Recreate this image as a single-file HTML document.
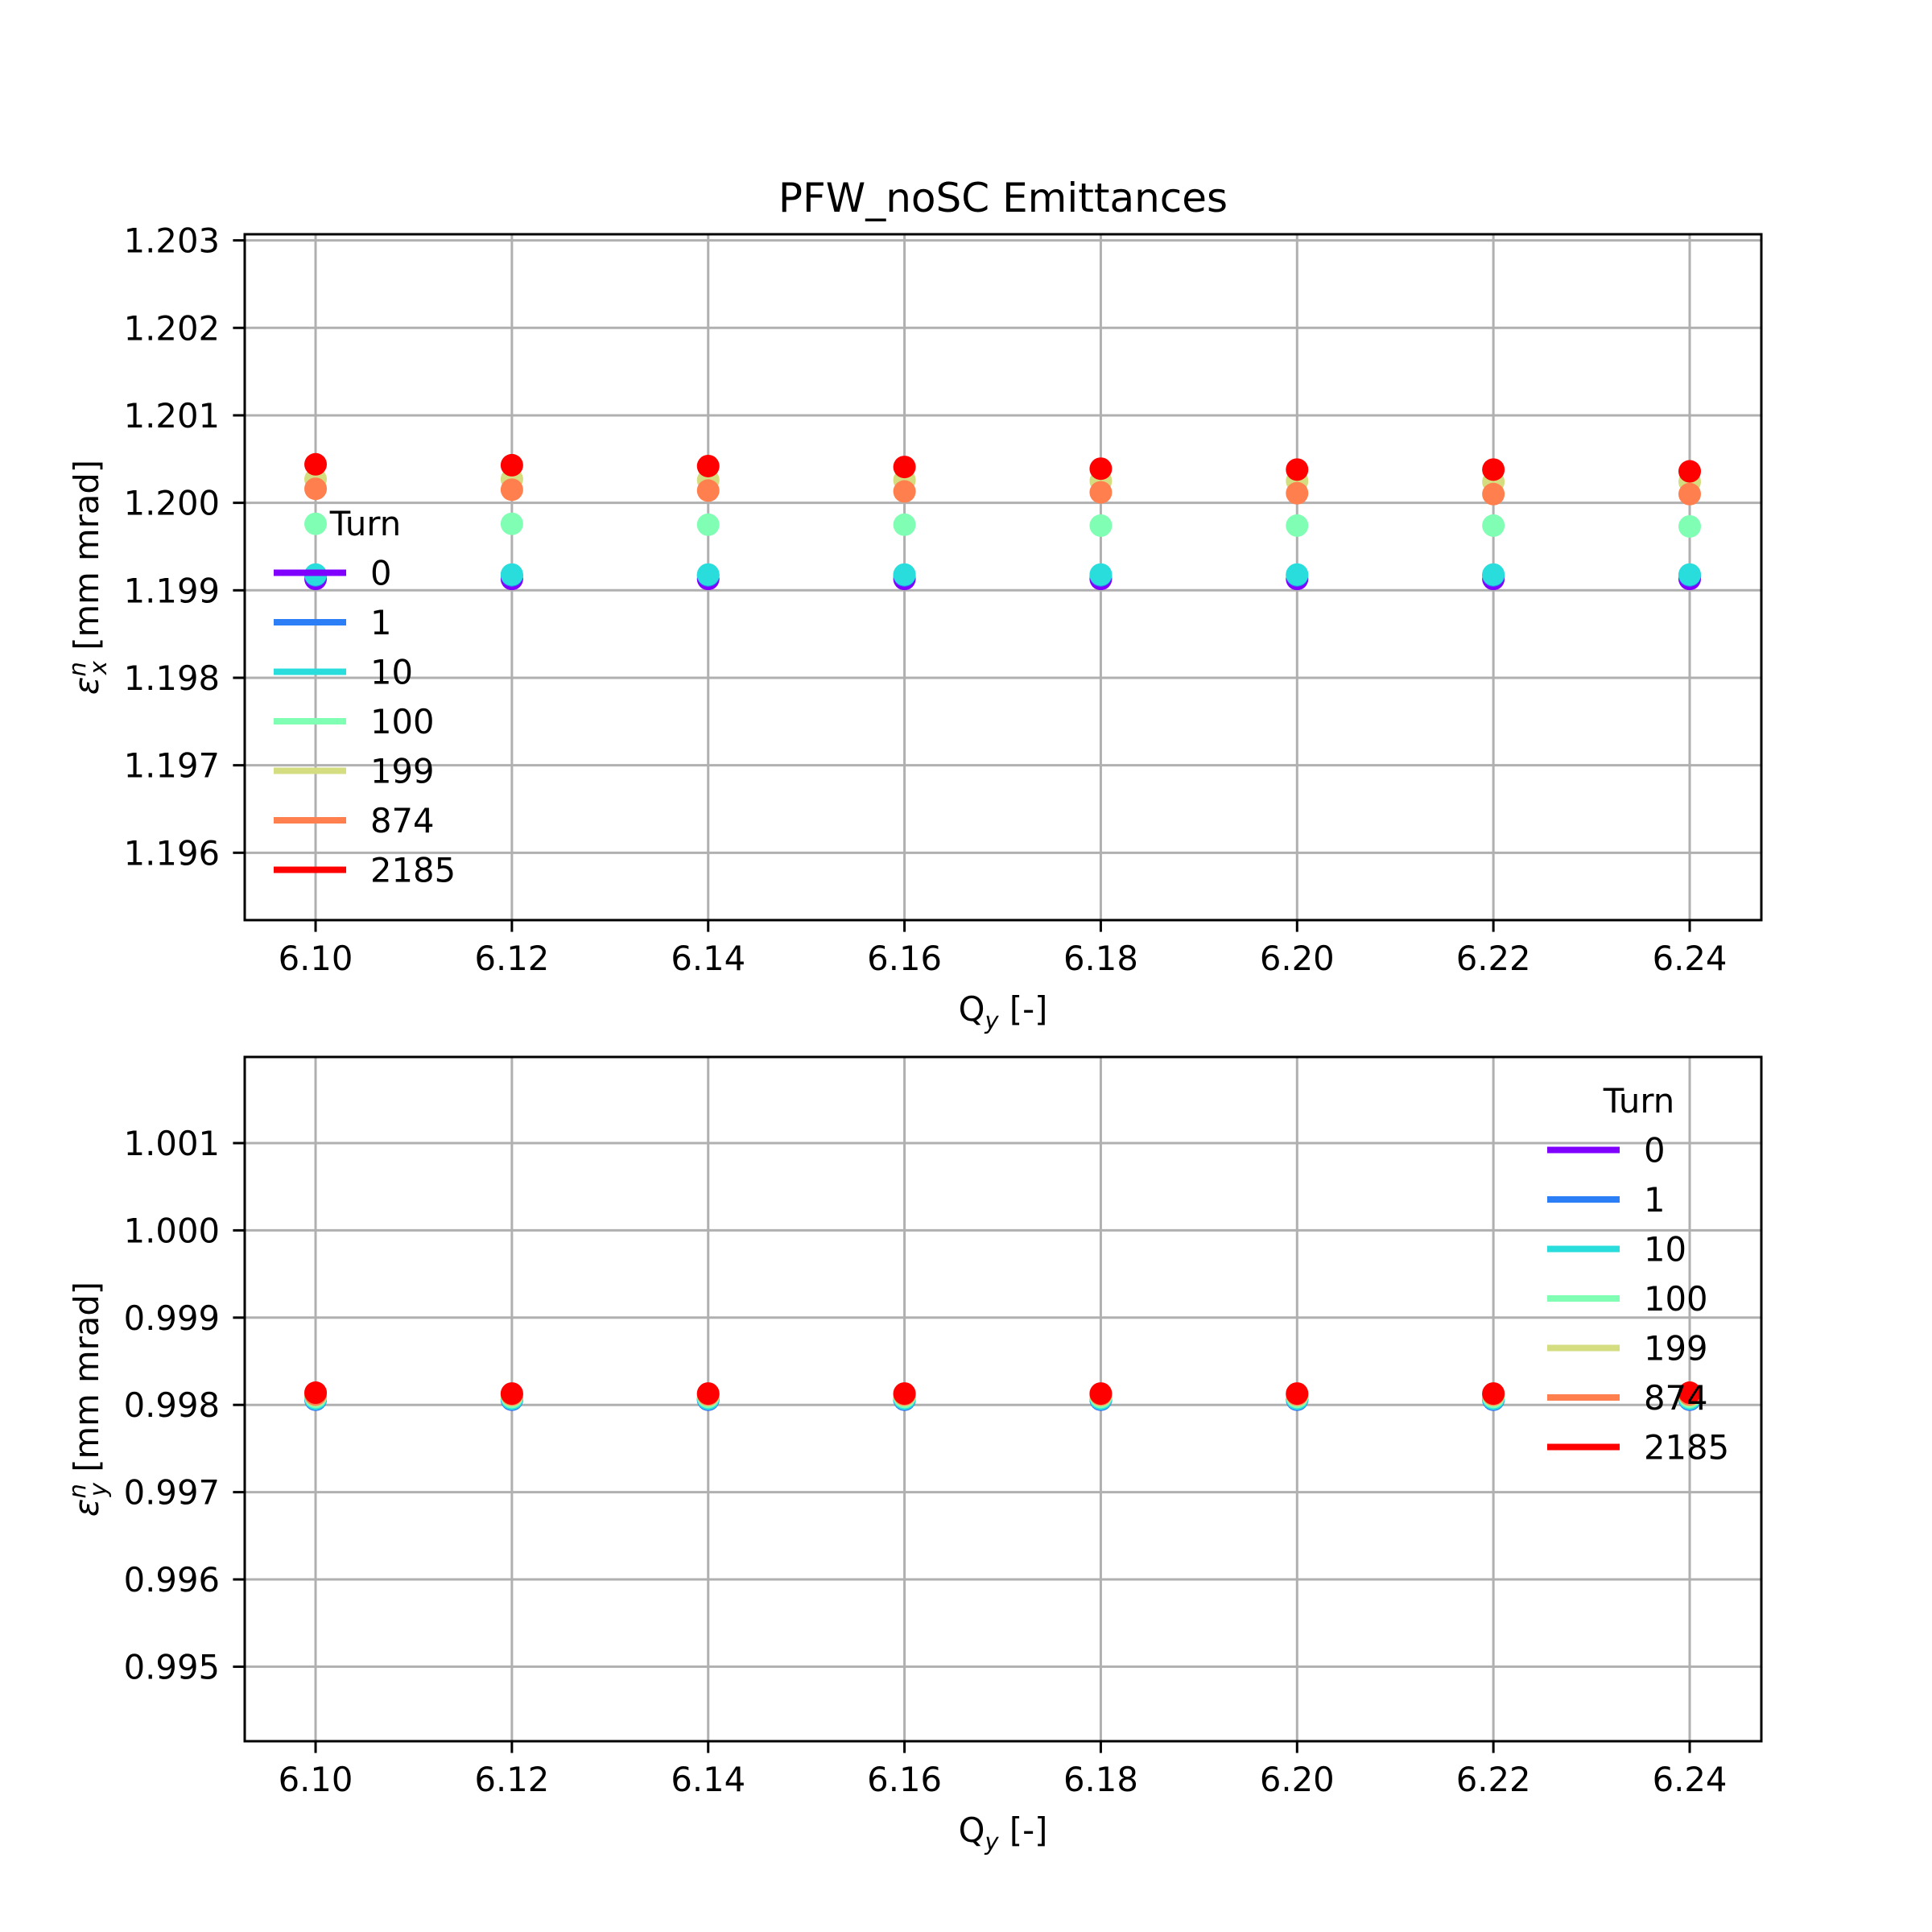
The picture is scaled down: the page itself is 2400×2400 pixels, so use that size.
<!DOCTYPE html>
<html><head><meta charset="utf-8"><style>
html,body{margin:0;padding:0;background:#fff}
svg{display:block;font-family:"DejaVu Sans","Liberation Sans",sans-serif}
</style></head><body>
<svg id="fig" width="2400" height="2400" viewBox="0 0 2400 2400" xmlns="http://www.w3.org/2000/svg">
<rect width="2400" height="2400" fill="#fff"/>
<text x="1246" y="263" font-size="50" text-anchor="middle">PFW_noSC Emittances</text>
<g id="g1"></g>
<g id="g2"></g>
</svg>
<script>
const qy = [6.10, 6.12, 6.14, 6.16, 6.18, 6.20, 6.22, 6.24];
const xTicks = ["6.10","6.12","6.14","6.16","6.18","6.20","6.22","6.24"];
const turns = ["0","1","10","100","199","874","2185"];
const colors = ["#8000ff","#2c7ef7","#2adddd","#80ffb4","#d4dd80","#ff7f4e","#ff0000"];
const exTurn0 = [1.19913,1.19913,1.19913,1.19913,1.19913,1.19913,1.19913,1.19913];
const exTurn1 = [1.19917,1.19917,1.19917,1.19917,1.19917,1.19917,1.19917,1.19917];
const exTurn10 = [1.19918,1.19918,1.19918,1.19918,1.19918,1.19918,1.19918,1.19918];
const exTurn100 = [1.19976,1.19976,1.19975,1.19975,1.19974,1.19974,1.19974,1.19973];
const exTurn199 = [1.20027,1.20027,1.20026,1.20026,1.20025,1.20025,1.20024,1.20024];
const exTurn874 = [1.20016,1.20015,1.20014,1.20013,1.20012,1.20011,1.20010,1.20010];
const exTurn2185 = [1.20044,1.20043,1.20042,1.20041,1.20039,1.20038,1.20038,1.20036];
const eyTurn0 = [0.99806,0.99806,0.99806,0.99806,0.99806,0.99806,0.99806,0.99806];
const eyTurn1 = [0.99806,0.99806,0.99806,0.99806,0.99806,0.99806,0.99806,0.99806];
const eyTurn10 = [0.99807,0.99807,0.99807,0.99807,0.99807,0.99807,0.99807,0.99807];
const eyTurn100 = [0.99809,0.99809,0.99809,0.99809,0.99809,0.99809,0.99809,0.99809];
const eyTurn199 = [0.99811,0.99811,0.99811,0.99811,0.99811,0.99811,0.99811,0.99811];
const eyTurn874 = [0.99812,0.99812,0.99812,0.99812,0.99812,0.99812,0.99812,0.99812];
const eyTurn2185 = [0.99814,0.99813,0.99813,0.99813,0.99813,0.99813,0.99813,0.99814];
const yTicksTop = [1.196,1.197,1.198,1.199,1.200,1.201,1.202,1.203];
const yTicksBot = [0.995,0.996,0.997,0.998,0.999,1.000,1.001];

const NS="http://www.w3.org/2000/svg";
function mk(tag, attrs, parent){const e=document.createElementNS(NS,tag);for(const k in attrs)e.setAttribute(k,attrs[k]);parent.appendChild(e);return e;}
const L=304,R=2188,X0=6.09278,X1=6.2473;
function xs(q){return L+(q-X0)/(X1-X0)*(R-L);}

function panel(g, top, bot, ymin, ymax, yt, series, ylabelSub, legendPos){
  const ys=v=>bot-(v-ymin)/(ymax-ymin)*(bot-top);
  qy.forEach((q,i)=>{
    const l=mk('line',{x1:xs(q),x2:xs(q),y1:top,y2:bot,stroke:'#b0b0b0','stroke-width':3},g);
    
    
    const t=mk('line',{x1:xs(q),x2:xs(q),y1:bot,y2:bot+14.6,stroke:'#000','stroke-width':3},g);
    
    
    const tx=mk('text',{x:xs(q),y:bot+62,'font-size':41.7,'text-anchor':'middle'},g);
    tx.textContent=xTicks[i];
    
    
  });
  yt.forEach(v=>{
    const y=ys(v);
    const l=mk('line',{x1:L,x2:R,y1:y,y2:y,stroke:'#b0b0b0','stroke-width':3},g);
    
    
    const t=mk('line',{x1:L-14.6,x2:L,y1:y,y2:y,stroke:'#000','stroke-width':3},g);
    
    
    const tx=mk('text',{x:L-31,y:y+15,'font-size':41.7,'text-anchor':'end'},g);
    tx.textContent=v.toFixed(3);
    
    
  });
  series.forEach((s,si)=>{
    s.forEach((v,i)=>{
      const c=mk('circle',{cx:xs(qy[i]),cy:ys(v),r:14,fill:colors[si]},g);
      
      
    });
  });
  const fr=mk('rect',{x:L,y:top,width:R-L,height:bot-top,fill:'none',stroke:'#000','stroke-width':3},g);
  
  
  const xl=mk('text',{x:1246,y:bot+125,'font-size':41.7,'text-anchor':'middle'},g);
  xl.innerHTML='Q<tspan font-size="29" dy="10" font-style="italic">y</tspan><tspan dy="-10"> [-]</tspan>';
  
  
  const cy=(top+bot)/2;
  const yl=mk('text',{x:0,y:0,'font-size':41.7,'text-anchor':'middle',transform:`translate(122,${cy}) rotate(-90)`},g);
  yl.innerHTML='<tspan font-style="italic">ε</tspan><tspan font-size="29" dy="-16" font-style="italic">n</tspan><tspan font-size="29" dx="-16" dy="26" font-style="italic">'+ylabelSub+'</tspan><tspan dy="-10"> [mm mrad]</tspan>';
  
  
  const lg=mk('g',{},g);
  
  
  const tt=mk('text',{x:legendPos.tx,y:legendPos.ty+15,'font-size':41.7,'text-anchor':'middle'},lg);
  tt.textContent='Turn';
  
  
  turns.forEach((t,i)=>{
    const y=legendPos.ty+61.5*(i+1);
    const ln=mk('line',{x1:legendPos.lx,x2:legendPos.lx+90,y1:y,y2:y,stroke:colors[i],'stroke-width':8},lg);
    
    
    const tx=mk('text',{x:legendPos.lx+120,y:y+15,'font-size':41.7},lg);
    tx.textContent=t;
    
    
  });
}
panel(document.getElementById('g1'),291,1143,1.19523,1.20307,yTicksTop,
  [exTurn0,exTurn1,exTurn10,exTurn100,exTurn199,exTurn874,exTurn2185],'x',{tx:454,ty:650,lx:340});
panel(document.getElementById('g2'),1313,2163,0.994146,1.001987,yTicksBot,
  [eyTurn0,eyTurn1,eyTurn10,eyTurn100,eyTurn199,eyTurn874,eyTurn2185],'y',{tx:2036,ty:1367,lx:1922});
</script>
</body></html>
